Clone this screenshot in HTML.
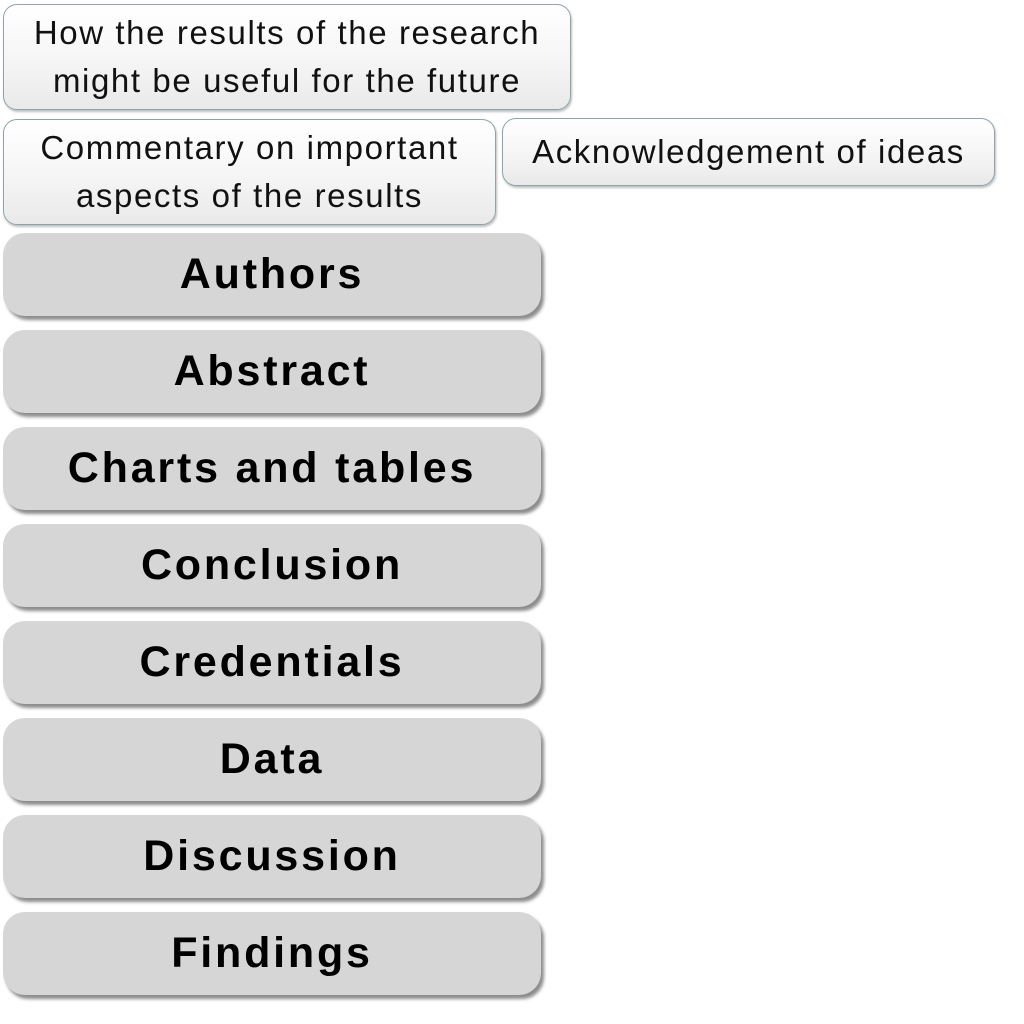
<!DOCTYPE html>
<html><head><style>
body{margin:0;width:1024px;height:1024px;background:#fff;position:relative;overflow:hidden;font-family:"Liberation Sans",sans-serif}
.w{position:absolute;box-sizing:border-box;border:1.5px solid #8fa3ad;border-radius:14px;background:linear-gradient(#ffffff,#f4f4f4 60%,#e9e9e9);box-shadow:1px 2px 2px rgba(0,0,0,.25);display:flex;align-items:center;justify-content:center;text-align:center;font-size:33px;letter-spacing:1.6px;line-height:48px;color:#111}
.g{position:absolute;left:3px;width:538px;height:83px;box-sizing:border-box;border-radius:22px;background:#d6d6d6;box-shadow:3px 4px 3px rgba(0,0,0,.45);display:flex;align-items:center;justify-content:center;font-weight:bold;font-size:43px;letter-spacing:2.8px;color:#000}
</style></head><body>
<div class="w" style="left:3px;top:4px;width:568px;height:106px">How the results of the research<br>might be useful for the future</div>
<div class="w" style="left:3px;top:119px;width:493px;height:106px">Commentary on important<br>aspects of the results</div>
<div class="w" style="left:502px;top:118px;width:493px;height:68px">Acknowledgement of ideas</div>
<div class="g" style="top:233px">Authors</div>
<div class="g" style="top:330px">Abstract</div>
<div class="g" style="top:427px">Charts and tables</div>
<div class="g" style="top:524px">Conclusion</div>
<div class="g" style="top:621px">Credentials</div>
<div class="g" style="top:718px">Data</div>
<div class="g" style="top:815px">Discussion</div>
<div class="g" style="top:912px">Findings</div>
</body></html>
